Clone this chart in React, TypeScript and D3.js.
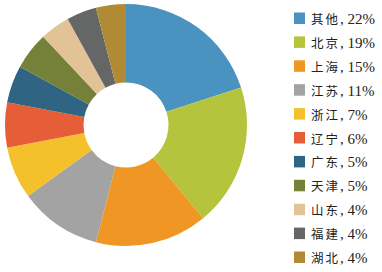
import React from "react";
import * as d3 from "d3";

const categories = ["其他", "北京", "上海", "江苏", "浙江", "辽宁", "广东", "天津", "山东", "福建", "湖北"];
const shares = [20, 19, 15, 11, 7, 6, 5, 5, 4, 4, 4];
const labels = ["22%", "19%", "15%", "11%", "7%", "6%", "5%", "5%", "4%", "4%", "4%"];
const colors = ["#4a92bf", "#b5c43c", "#f09624", "#a2a3a2", "#f4c02c", "#e65e38", "#2f6582", "#758138", "#e2c297", "#656766", "#b08a35"];

export default function App() {
  const W = 382, H = 272;
  const cx = 126, cy = 125, R = 121, r = 42.5;
  const pie = d3.pie<number>().sort(null).value((d) => d)(shares);
  const arc = d3.arc<d3.PieArcDatum<number>>().innerRadius(r).outerRadius(R);
  const y = d3.scaleLinear().domain([0, categories.length - 1]).range([18.5, 257.5]);
  return (
    <svg width={W} height={H} style={{ position: "absolute", left: 0, top: 0, background: "#fff" }}>
      <g transform={`translate(${cx},${cy})`}>
        {pie.map((p, i) => (
          <path key={i} d={arc(p) || ""} fill={colors[i]} />
        ))}
      </g>
      {categories.map((c, i) => (
        <g key={c} transform={`translate(0,${y(i)})`}>
          <rect x={294} y={-6} width={11} height={11.5} fill={colors[i]} />
          <text x={311} y={5.5} fill="#222">
            <tspan fontFamily="Noto Sans CJK SC" fontSize={12.5} letterSpacing={2}>{c}</tspan>
            <tspan fontFamily="Liberation Serif" fontSize={15}>, {labels[i]}</tspan>
          </text>
        </g>
      ))}
    </svg>
  );
}
